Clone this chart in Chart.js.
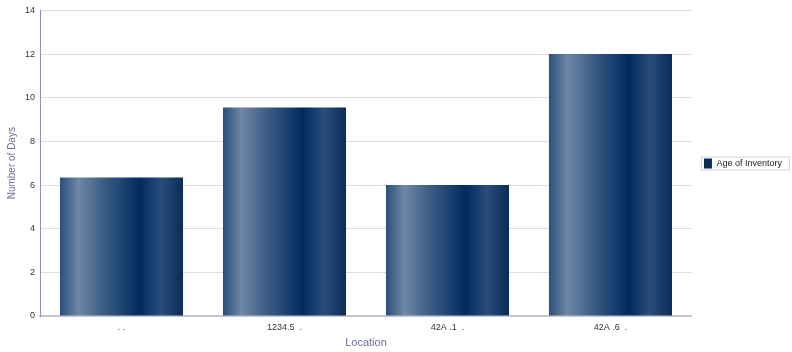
<!DOCTYPE html>
<html>
<head>
<meta charset="utf-8">
<script src="https://cdn.jsdelivr.net/npm/chart.js@4.4.0/dist/chart.umd.min.js"></script>
<style>
  html, body { margin: 0; padding: 0; background: #ffffff; }
  #wrap { width: 792px; height: 352px; }
</style>
</head>
<body>
<div id="wrap"><canvas id="myGraph" width="792" height="352"></canvas></div>
<script>
// Données du graphique
const locations = [". .", "1234.5  .", "42A .1  .", "42A .6  ."];
const daysValues = [6.35, 9.55, 6.0, 12.0];
const seriesName = "Age of Inventory";

// Dégradé horizontal "cylindre" pour chaque barre
function barGradient(ctx, left, right) {
  const g = ctx.createLinearGradient(left, 0, right, 0);
  g.addColorStop(0, "#2b4f7c");
  g.addColorStop(0.15, "#6e87a5");
  g.addColorStop(0.35, "#3d5e87");
  g.addColorStop(0.65, "#002b5e");
  g.addColorStop(0.82, "#294d7b");
  g.addColorStop(1, "#0c2b56");
  return g;
}

// Légende : décalage + cadre
const legendBox = {
  id: "legendBox",
  afterLayout(chart) {
    const lg = chart.legend;
    lg.left += 6;
    lg.right += 6;
    lg.bottom -= 28;
  },
  afterDraw(chart) {
    const lg = chart.legend;
    const c = chart.ctx;
    const item = lg.legendHitBoxes[0];
    if (!item) return;
    c.save();
    c.strokeStyle = "#d4d4dc";
    c.lineWidth = 1;
    c.strokeRect(item.left - 2.5, item.top - 1.5, 88, item.height + 3);
    c.restore();
  }
};

const ctx = document.getElementById("myGraph").getContext("2d");
new Chart(ctx, {
  type: "bar",
  data: {
    labels: locations,
    datasets: [
      {
        label: seriesName,
        data: daysValues,
        backgroundColor: (context) => {
          const chart = context.chart;
          const xs = chart.scales.x;
          if (!xs || !chart.chartArea) return "#1f4170";
          if (context.type !== "data") return "#1f3f6a";
          const catW = chart.chartArea.width / locations.length;
          const w = catW * 0.755;
          const cx = xs.getPixelForValue(context.dataIndex);
          return barGradient(chart.ctx, cx - w / 2, cx + w / 2);
        },
        borderWidth: 0,
        barPercentage: 0.755,
        categoryPercentage: 1,
      },
    ],
  },
  options: {
    responsive: false,
    animation: false,
    layout: { padding: { top: 5, right: 6, bottom: 2, left: 0 } },
    scales: {
      x: {
        grid: { display: false, drawTicks: false },
        border: { color: "#c4c4d4", width: 2 },
        ticks: { color: "#333333", font: { family: "Liberation Sans", size: 9 }, padding: 6 },
        title: {
          display: true,
          text: "Location",
          color: "#6a6f9e",
          font: { family: "Liberation Sans", size: 11 },
          padding: { top: 4, bottom: 0 },
        },
        afterFit: (scale) => { scale.height = 34; },
      },
      y: {
        min: 0,
        max: 14,
        ticks: { stepSize: 2, color: "#333333", font: { family: "Liberation Sans", size: 9 }, padding: 5 },
        grid: { color: "#dcdce8", drawTicks: false },
        border: { color: "#8a8fbb", width: 1 },
        title: {
          display: true,
          text: "Number of Days",
          color: "#6a6f9e",
          font: { family: "Liberation Sans", size: 10 },
          padding: { top: 6, bottom: 7 },
        },
        afterFit: (scale) => { scale.width = 40; },
      },
    },
    plugins: {
      legend: {
        position: "right",
        align: "center",
        labels: {
          boxWidth: 8,
          boxHeight: 10,
          color: "#222222",
          font: { family: "Liberation Sans", size: 9 },
          padding: 6,
        },
      },
      tooltip: { enabled: false },
    },
  },
  plugins: [legendBox],
});
</script>
</body>
</html>
